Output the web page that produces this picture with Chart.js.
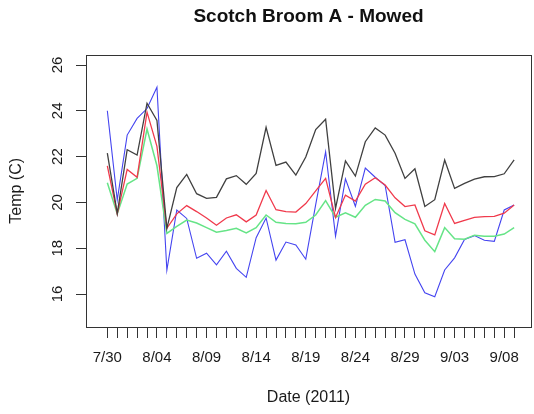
<!DOCTYPE html>
<html>
<head>
<meta charset="utf-8">
<title>Scotch Broom A - Mowed</title>
<script src="https://cdn.jsdelivr.net/npm/chart.js@4.4.1/dist/chart.umd.min.js"></script>
<style>
  html, body { margin: 0; padding: 0; background: #fff; }
  canvas { display: block; }
</style>
</head>
<body>
<canvas id="chart" width="534" height="414"></canvas>
<script>
// Daily dates, 7/30 through 9/09 (2011)
const dates = [
  '7/30', '7/31',
  '8/01', '8/02', '8/03', '8/04', '8/05', '8/06', '8/07', '8/08', '8/09', '8/10',
  '8/11', '8/12', '8/13', '8/14', '8/15', '8/16', '8/17', '8/18', '8/19', '8/20',
  '8/21', '8/22', '8/23', '8/24', '8/25', '8/26', '8/27', '8/28', '8/29', '8/30', '8/31',
  '9/01', '9/02', '9/03', '9/04', '9/05', '9/06', '9/07', '9/08', '9/09'
];

// Temperature series (deg C), one value per date
const tempBlack = [
  22.15, 19.52, 22.30, 22.07, 24.33, 23.58, 18.87, 20.65, 21.22, 20.38,
  20.18, 20.22, 21.03, 21.17, 20.79, 21.27, 23.28, 21.62, 21.76, 21.19,
  21.98, 23.18, 23.63, 19.74, 21.81, 21.15, 22.65, 23.25, 22.94, 22.15,
  21.05, 21.47, 19.82, 20.12, 21.85, 20.61, 20.83, 21.02, 21.12, 21.13,
  21.25, 21.86
];
const tempRed = [
  21.60, 19.50, 21.44, 21.10, 23.94, 22.45, 18.87, 19.50, 19.86, 19.60,
  19.32, 19.00, 19.32, 19.46, 19.15, 19.45, 20.52, 19.68, 19.60, 19.58,
  19.95, 20.50, 21.05, 19.34, 20.32, 20.06, 20.80, 21.08, 20.76, 20.20,
  19.82, 19.89, 18.76, 18.58, 19.95, 19.08, 19.22, 19.35, 19.38, 19.39,
  19.53, 19.89
];
const tempGreen = [
  20.86, 19.50, 20.80, 21.05, 23.20, 21.60, 18.65, 18.95, 19.23, 19.10,
  18.90, 18.70, 18.77, 18.87, 18.67, 18.90, 19.45, 19.13, 19.08, 19.07,
  19.13, 19.45, 20.08, 19.35, 19.55, 19.35, 19.87, 20.13, 20.06, 19.55,
  19.26, 19.06, 18.35, 17.85, 18.90, 18.41, 18.39, 18.57, 18.52, 18.52,
  18.62, 18.90
];
const tempBlue = [
  24.00, 20.10, 22.94, 23.67, 24.10, 25.03, 17.04, 19.67, 19.30, 17.56,
  17.78, 17.27, 17.87, 17.12, 16.73, 18.46, 19.32, 17.48, 18.27, 18.14,
  17.52, 19.90, 22.21, 18.53, 21.03, 19.83, 21.50, 21.10, 20.74, 18.26,
  18.37, 16.87, 16.05, 15.88, 17.05, 17.58, 18.38, 18.55, 18.35, 18.30,
  19.67, 19.89
];

// Axis tick values
const yTicks = [16, 18, 20, 22, 24, 26];
const labelEvery = 5;

const FONT = '"Liberation Sans", Arial, Helvetica, sans-serif';
Chart.defaults.font.family = FONT;
Chart.defaults.color = '#1a1a1a';

const toPoints = vals => vals.map((v, i) => ({ x: i, y: v }));

const line = (label, vals, color, width) => ({
  label,
  data: toPoints(vals),
  borderColor: color,
  borderWidth: width,
  pointRadius: 0,
  tension: 0,
  fill: false
});

// White background, plot box and vertical y tick labels
const framePlugin = {
  id: 'frame',
  beforeDraw(chart) {
    const { ctx, width, height } = chart;
    ctx.save();
    ctx.fillStyle = '#ffffff';
    ctx.fillRect(0, 0, width, height);
    ctx.restore();
  },
  afterDraw(chart) {
    const { ctx, chartArea: a, scales: { y } } = chart;
    ctx.save();
    ctx.strokeStyle = '#333333';
    ctx.lineWidth = 1;
    const l = Math.round(a.left) + 0.5, t = Math.round(a.top) + 0.5;
    ctx.strokeRect(l, t, Math.round(a.right) - Math.round(a.left), Math.round(a.bottom) - Math.round(a.top));
    ctx.fillStyle = '#1a1a1a';
    ctx.font = '15px ' + FONT;
    ctx.textAlign = 'center';
    ctx.textBaseline = 'middle';
    yTicks.forEach(v => {
      ctx.save();
      ctx.translate(a.left - 28, y.getPixelForValue(v));
      ctx.rotate(-Math.PI / 2);
      ctx.fillText(String(v), 0, 0);
      ctx.restore();
    });
    ctx.restore();
  }
};

new Chart(document.getElementById('chart'), {
  type: 'line',
  data: {
    datasets: [
      line('Black', tempBlack, '#404040', 1.3),
      line('Red', tempRed, '#f03a4c', 1.3),
      line('Green', tempGreen, '#66e487', 1.5),
      line('Blue', tempBlue, '#4444f0', 1.1)
    ]
  },
  options: {
    responsive: false,
    animation: false,
    layout: { padding: { left: 0, right: 3, top: 0, bottom: 0 } },
    plugins: {
      legend: { display: false },
      tooltip: { enabled: false },
      title: {
        display: true,
        text: 'Scotch Broom A - Mowed',
        fullSize: false,
        color: '#111111',
        font: { size: 19, weight: 'bold' },
        padding: { top: 5.6, bottom: 26.3 }
      }
    },
    scales: {
      x: {
        type: 'linear',
        min: -2.15,
        max: 42.7,
        afterBuildTicks: s => {
          s.ticks = s.ticks.filter(t => t.value >= 0 && t.value <= dates.length - 1);
        },
        afterFit: s => { s.height = 87; },
        border: { display: false },
        grid: {
          drawOnChartArea: false,
          drawTicks: true,
          tickLength: 11,
          color: '#333333',
          lineWidth: 1
        },
        ticks: {
          stepSize: 1,
          autoSkip: false,
          includeBounds: false,
          maxRotation: 0,
          minRotation: 0,
          padding: 11,
          font: { size: 15 },
          color: '#1a1a1a',
          callback: v => (v % labelEvery === 0 ? dates[v] : '')
        },
        title: {
          display: true,
          text: 'Date (2011)',
          font: { size: 16 },
          color: '#1a1a1a',
          padding: { top: 0, bottom: 6.4 }
        }
      },
      y: {
        type: 'linear',
        min: 14.56,
        max: 26.45,
        afterBuildTicks: s => {
          s.ticks = s.ticks.filter(t => yTicks.includes(t.value));
        },
        afterFit: s => { s.width = 86; },
        border: { display: false },
        grid: {
          drawOnChartArea: false,
          drawTicks: true,
          tickLength: 10,
          color: '#333333',
          lineWidth: 1
        },
        ticks: {
          stepSize: 2,
          includeBounds: false,
          display: false
        },
        title: {
          display: true,
          text: 'Temp (C)',
          font: { size: 16 },
          color: '#1a1a1a',
          padding: { top: 7, bottom: 0 }
        }
      }
    }
  },
  plugins: [framePlugin]
});
</script>
</body>
</html>
